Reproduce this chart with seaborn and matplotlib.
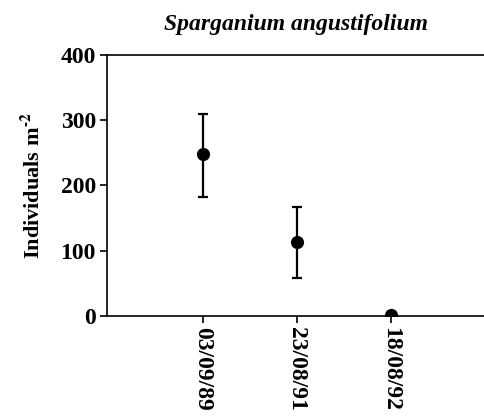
import numpy as np
import pandas as pd
import matplotlib
matplotlib.use("Agg")
import matplotlib.pyplot as plt
import seaborn as sns

# values
dates = ["03/09/89", "23/08/91", "18/08/92"]
means = [249, 114, 2]
lower = [183, 58, np.nan]
upper = [310, 167, np.nan]
y_ticks = [0, 100, 200, 300, 400]
title = "Sparganium angustifolium"

sns.set_style("ticks")
plt.rcParams["font.family"] = ["Liberation Serif", "DejaVu Serif"]
plt.rcParams["font.weight"] = "bold"
plt.rcParams["mathtext.fontset"] = "stix"
plt.rcParams["text.color"] = "black"
plt.rcParams["axes.labelcolor"] = "black"
plt.rcParams["xtick.color"] = "black"
plt.rcParams["ytick.color"] = "black"

df = pd.DataFrame({"date": dates, "mean": means, "lower": lower, "upper": upper})

fig = plt.figure(figsize=(4.85, 4.16), dpi=100)
ax = fig.add_axes([0.2206, 0.2404, 0.7794, 0.6274])

yerr = np.array([df["mean"] - df["lower"], df["upper"] - df["mean"]])
ax.errorbar(df["date"], df["mean"], yerr=yerr, fmt="none", ecolor="black",
            elinewidth=1.6, capsize=3.8, capthick=1.6, zorder=2)
sns.scatterplot(data=df, x="date", y="mean", ax=ax, color="black", s=90,
                edgecolor="black", linewidth=0, zorder=3, legend=False)

ax.set_xlim(-1.02, 3.0)
ax.set_ylim(0, 400)
ax.set_yticks(y_ticks)
ax.set_yticklabels([str(v) for v in y_ticks], fontsize=17, fontweight="bold")
ax.set_xticks(range(len(dates)))
ax.set_xticklabels(dates, rotation=270, fontsize=17, fontweight="bold")
ax.set_xlabel("")
ax.set_ylabel(r"Individuals m$^{\mathbf{\text{-}2}}$", fontsize=16,
              fontweight="bold", labelpad=11)
ax.set_title(title, fontsize=17, fontweight="bold", style="italic", pad=18)

for side in ["left", "top", "bottom"]:
    ax.spines[side].set_linewidth(1.2)
    ax.spines[side].set_color("black")
ax.spines["right"].set_visible(False)
ax.tick_params(axis="both", direction="out", width=1.2, length=5, color="black", pad=3)

fig.savefig("out.png", dpi=100)
